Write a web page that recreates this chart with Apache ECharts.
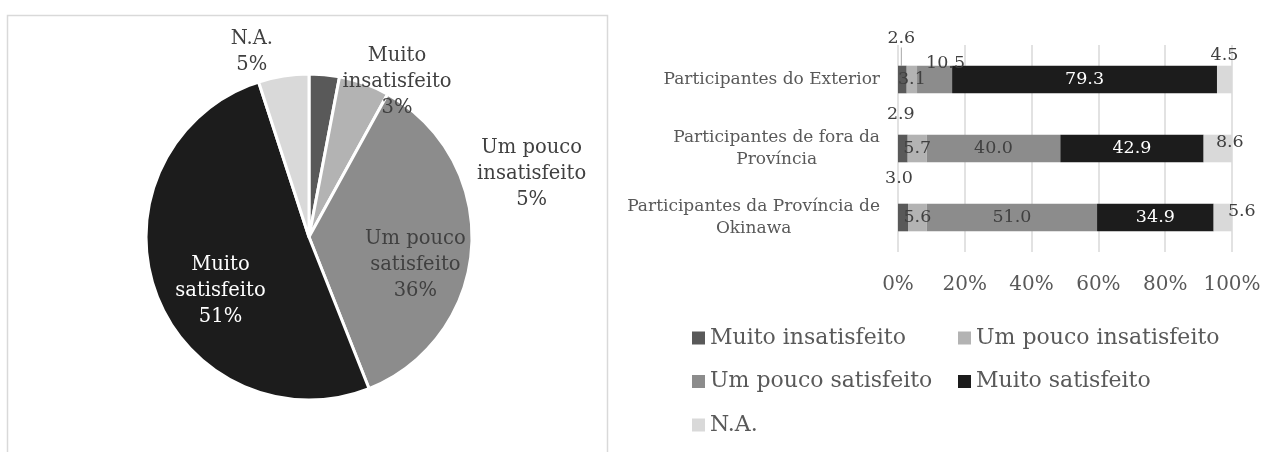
<!DOCTYPE html>
<html>
<head>
<meta charset="utf-8">
<script src="https://cdn.jsdelivr.net/npm/echarts@6/dist/echarts.min.js"></script>
<style>
  html, body { margin: 0; padding: 0; background: #fff; }
  #chart { width: 1278px; height: 452px; }
</style>
</head>
<body>
<div id="chart"></div>
<script>
// pie: overall satisfaction
const pieNames = ['Muito insatisfeito', 'Um pouco insatisfeito', 'Um pouco satisfeito', 'Muito satisfeito', 'N.A.'];
const pieValues = [3, 5, 36, 51, 5];

// stacked bars: by participant group (%)
const categories = [
    'Participantes do Exterior',
    'Participantes de fora da\nProvíncia',
    'Participantes da Província de\nOkinawa'
];
const muitoInsatisfeito = [2.6, 2.9, 3.0];
const umPoucoInsatisfeito = [3.1, 5.7, 5.6];
const umPoucoSatisfeito = [10.5, 40.0, 51.0];
const muitoSatisfeito = [79.3, 42.9, 34.9];
const naoAplica = [4.5, 8.6, 5.6];

const colors = ['#595959', '#b3b3b3', '#8c8c8c', '#1c1c1c', '#d9d9d9'];
const font = 'DejaVu Serif';

// label nudges (Excel had hand-placed labels)
const pieLabelShift = [[80, -71], [194, 16], [22, 23], [-9, 25], [-44, -102]];
const pieLabelColor = ['#404040', '#404040', '#404040', '#ffffff', '#404040'];
const miLabelShift = [[-1, -41], [-2, -34], [-4, -39]];
const upsLabelShift = [[11, -16], [0, 0], [0, 0]];
const naLabelShift = [[0, -24], [12, -6], [19, -6]];

const chart = echarts.init(document.getElementById('chart'));

const fmt1 = p => Number(p.value).toFixed(1);

function withShift(values, shifts) {
    return values.map((v, i) => ({ value: v, label: { offset: shifts[i] } }));
}

const barBase = {
    type: 'bar',
    stack: 'total',
    barWidth: '40%',
    xAxisIndex: 0,
    yAxisIndex: 0,
    label: {
        show: true,
        position: 'inside',
        formatter: fmt1,
        fontFamily: font,
        fontSize: 17.5,
        color: '#404040'
    }
};

const legendText = { fontFamily: font, fontSize: 22, lineHeight: 22, color: '#595959' };

const option = {
    animation: false,
    textStyle: { fontFamily: font },
    graphic: [
        {
            type: 'rect',
            shape: { x: 7.5, y: 15.5, width: 600, height: 480 },
            style: { fill: 'none', stroke: '#d9d9d9', lineWidth: 1.5 },
            silent: true
        }
    ],
    grid: { left: 898, right: 46, top: 45, bottom: 200 },
    xAxis: {
        type: 'value',
        min: 0,
        max: 100,
        interval: 20,
        axisLine: { show: false },
        axisTick: { show: false },
        splitLine: { lineStyle: { color: '#d9d9d9', width: 1.5 } },
        axisLabel: {
            formatter: '{value}%',
            fontFamily: font,
            fontSize: 20,
            lineHeight: 20,
            margin: 23,
            color: '#595959'
        }
    },
    yAxis: {
        type: 'category',
        inverse: true,
        data: categories,
        axisLine: { show: false },
        axisTick: { show: false },
        axisLabel: {
            margin: 18,
            color: '#595959',
            formatter: v => v.split('\n').map(s => '{c|' + s + '}').join('\n'),
            rich: {
                c: { align: 'center', fontFamily: font, fontSize: 17, lineHeight: 22, color: '#595959' }
            }
        }
    },
    legend: [
        {
            orient: 'vertical',
            left: 692,
            top: 327,
            padding: 0,
            itemWidth: 13,
            itemHeight: 13,
            itemGap: 21.5,
            icon: 'rect',
            data: ['Muito insatisfeito', 'Um pouco satisfeito', 'N.A.'],
            textStyle: legendText
        },
        {
            orient: 'vertical',
            left: 958,
            top: 327,
            padding: 0,
            itemWidth: 13,
            itemHeight: 13,
            itemGap: 21.5,
            icon: 'rect',
            data: ['Um pouco insatisfeito', 'Muito satisfeito'],
            textStyle: legendText
        }
    ],
    series: [
        {
            type: 'pie',
            center: [309, 237],
            radius: 163,
            startAngle: 90,
            clockwise: true,
            data: pieNames.map((n, i) => ({
                name: n,
                value: pieValues[i],
                itemStyle: { color: colors[i] },
                label: { color: pieLabelColor[i] }
            })),
            itemStyle: { borderColor: '#ffffff', borderWidth: 3 },
            label: {
                show: true,
                position: 'inside',
                fontFamily: font,
                fontSize: 19.5,
                lineHeight: 26,
                formatter: p => p.name.replace(' insatisfeito', '\ninsatisfeito').replace(' satisfeito', '\nsatisfeito') + '\n' + Math.round(p.percent) + '%'
            },
            labelLine: { show: false },
            labelLayout: params => {
                const s = pieLabelShift[params.dataIndex];
                return { dx: s[0], dy: s[1] };
            },
            emphasis: { disabled: true }
        },
        Object.assign({}, barBase, {
            name: 'Muito insatisfeito',
            itemStyle: { color: colors[0] },
            data: muitoInsatisfeito.map((v, i) => ({ value: v, labelLine: { show: i === 0 } })),
            labelLine: { show: true, lineStyle: { color: '#a6a6a6', width: 1 } },
            labelLayout: params => {
                const s = miLabelShift[params.dataIndex];
                if (params.dataIndex === 0) {
                    // moved with x/y (top-left anchor) so the guide line gets drawn
                    const r = params.labelRect;
                    return { x: r.x + s[0], y: r.y + s[1] };
                }
                return { dx: s[0], dy: s[1] };
            }
        }),
        Object.assign({}, barBase, {
            name: 'Um pouco insatisfeito',
            itemStyle: { color: colors[1] },
            data: umPoucoInsatisfeito
        }),
        Object.assign({}, barBase, {
            name: 'Um pouco satisfeito',
            itemStyle: { color: colors[2] },
            data: withShift(umPoucoSatisfeito, upsLabelShift)
        }),
        Object.assign({}, barBase, {
            name: 'Muito satisfeito',
            itemStyle: { color: colors[3] },
            data: muitoSatisfeito,
            label: Object.assign({}, barBase.label, { color: '#ffffff' })
        }),
        Object.assign({}, barBase, {
            name: 'N.A.',
            itemStyle: { color: colors[4] },
            data: withShift(naoAplica, naLabelShift)
        })
    ]
};

chart.setOption(option);
</script>
</body>
</html>
